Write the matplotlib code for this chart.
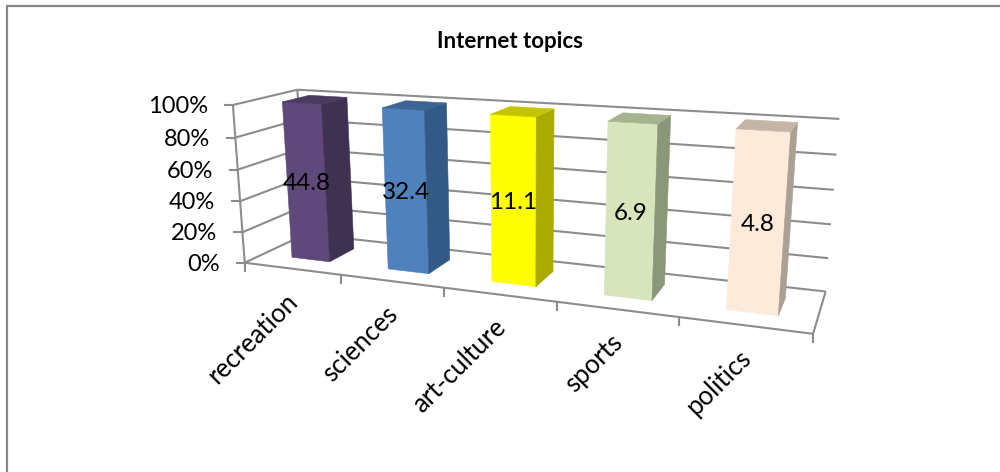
"""Internet topics: 100% stacked column chart drawn in a 3D perspective box."""

import matplotlib

matplotlib.use("Agg")
import matplotlib.pyplot as plt
from matplotlib.patches import Polygon
import numpy as np

TITLE = "Internet topics"
CATEGORIES = ["recreation", "sciences", "art-culture", "sports", "politics"]
VALUES = [44.8, 32.4, 11.1, 6.9, 4.8]
PERCENT_TICKS = [0, 20, 40, 60, 80, 100]
TICK_LABELS = ["0%", "20%", "40%", "60%", "80%", "100%"]

GRID = "#8c8c8c"
FONT = "Lato"

# (front, side, top) shades for each column
BAR_COLORS = [
    ("#5f497a", "#3f3151", "#4a3a60"),
    ("#4f81bd", "#335a87", "#3c6494"),
    ("#ffff00", "#aaaa00", "#c4c400"),
    ("#d7e4bc", "#8a9779", "#a6b38f"),
    ("#fdeada", "#aba094", "#c4b5a5"),
]

BAR_CENTER = 0.51
BAR_WIDTH = 0.40
DEPTH_FRONT = 0.29
DEPTH_BACK = 0.72

# box corners and axis ticks: (category x, depth, percent) -> canvas pixels
ANCHORS = [
    (0, 0, 0, 245.7, 261.0),
    (5, 0, 0, 813.3, 333.0),
    (0, 1, 0, 305.0, 234.0),
    (5, 1, 0, 826.0, 290.7),
    (0, 0, 100, 232.3, 104.3),
    (0, 1, 100, 298.0, 90.0),
    (5, 1, 100, 839.3, 119.3),
    (1, 0, 0, 341.0, 276.7),
    (2, 0, 0, 444.0, 289.0),
    (3, 0, 0, 557.0, 301.0),
    (4, 0, 0, 679.0, 318.0),
]


def fit_camera(anchors):
    rows, targets = [], []
    for x, d, h, u, v in anchors:
        rows.append([x, d, h, 1, 0, 0, 0, 0, -u * x, -u * d, -u * h])
        rows.append([0, 0, 0, 0, x, d, h, 1, -v * x, -v * d, -v * h])
        targets += [u, v]
    params, *_ = np.linalg.lstsq(np.array(rows, float), np.array(targets, float), rcond=None)
    return np.append(params, 1.0).reshape(3, 4)


CAMERA = fit_camera(ANCHORS)


def project(x, d, h):
    u, v, w = CAMERA @ np.array([x, d, h, 1.0])
    return u / w, v / w


def draw_line(ax, start, end, lw=1.5):
    ax.plot(*zip(project(*start), project(*end)), color=GRID, lw=lw, solid_capstyle="butt", zorder=1)


def draw_box(ax):
    n = len(CATEGORIES)
    for pct in PERCENT_TICKS:
        draw_line(ax, (0, 0, pct), (0, 1, pct))
        draw_line(ax, (0, 1, pct), (n, 1, pct))
        u, v = project(0, 0, pct)
        ax.plot([u - 8, u], [v, v], color=GRID, lw=1.5, zorder=1)
    draw_line(ax, (0, 0, 0), (0, 0, 100))
    draw_line(ax, (0, 1, 0), (0, 1, 100))
    draw_line(ax, (0, 0, 0), (n, 0, 0))
    draw_line(ax, (n, 0, 0), (n, 1, 0))
    for i in range(n + 1):
        u, v = project(i, 0, 0)
        ax.plot([u, u], [v, v + 8], color=GRID, lw=1.5, zorder=1)


def draw_bar(ax, index, height, colors):
    x0 = index + BAR_CENTER - BAR_WIDTH / 2
    x1 = index + BAR_CENTER + BAR_WIDTH / 2
    front, side, top = colors
    faces = [
        (front, [(x0, DEPTH_FRONT, 0), (x1, DEPTH_FRONT, 0), (x1, DEPTH_FRONT, height), (x0, DEPTH_FRONT, height)]),
        (side, [(x1, DEPTH_FRONT, 0), (x1, DEPTH_BACK, 0), (x1, DEPTH_BACK, height), (x1, DEPTH_FRONT, height)]),
        (top, [(x0, DEPTH_FRONT, height), (x1, DEPTH_FRONT, height), (x1, DEPTH_BACK, height), (x0, DEPTH_BACK, height)]),
    ]
    for color, corners in faces:
        ax.add_patch(Polygon([project(*c) for c in corners], closed=True, facecolor=color, edgecolor=color, lw=0.4, zorder=2))


fig = plt.figure(figsize=(10, 4.72), dpi=100, facecolor="white")
ax = fig.add_axes([0, 0, 1, 1])
ax.set_xlim(0, 1000)
ax.set_ylim(472, 0)
ax.axis("off")

# chart area border, only its top and left edges are in frame
ax.plot([6.5, 6.5, 1000], [472, 5.5, 5.5], color="#868686", lw=1.6, zorder=1)

ax.text(510, 41, TITLE, family=FONT, fontsize=16, fontweight="bold", ha="center", va="center", color="black")

draw_box(ax)

# every column fills the whole 100% stack, the share is just its own value
shares = [100 * v / v for v in VALUES]
for i, (share, colors) in enumerate(zip(shares, BAR_COLORS)):
    draw_bar(ax, i, share, colors)

for pct, label in zip(PERCENT_TICKS, TICK_LABELS):
    u, v = project(0, 0, pct)
    ax.text(u - 25, v + 1.5, label, family=FONT, fontsize=17, ha="right", va="center", color="black", zorder=4)

for i, (value, share) in enumerate(zip(VALUES, shares)):
    u, v = project(i + BAR_CENTER, DEPTH_FRONT, share / 2)
    ax.text(u, v + 1, f"{value}", family=FONT, fontsize=17.5, ha="center", va="center", color="black", zorder=4)

for i, name in enumerate(CATEGORIES):
    u, v = project(i + 0.5, 0, 0)
    ax.text(u + 2, v + 29, name, family=FONT, fontsize=18.5, rotation=45, rotation_mode="anchor",
            ha="right", va="center", color="black", zorder=4)

fig.savefig("out.png", dpi=100, facecolor="white")
